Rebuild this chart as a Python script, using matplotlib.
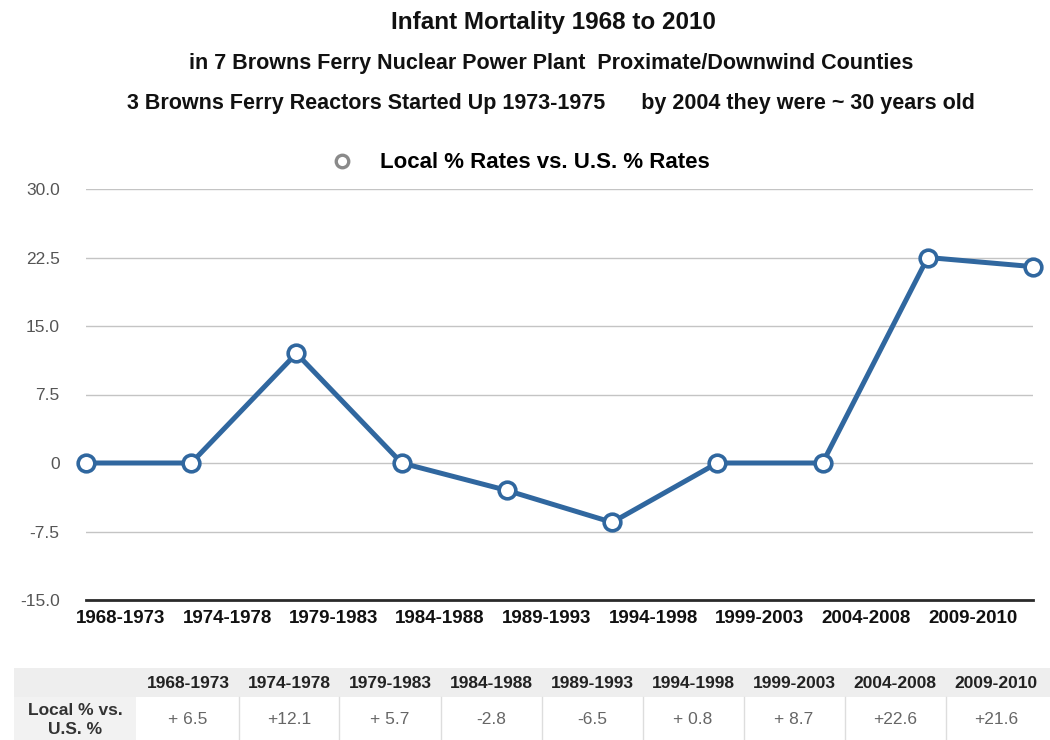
'''
Infant mortality chart for the counties around Browns Ferry,
    local rates compared with U.S. rates, 1968 to 2010.
'''
import numpy as np
import matplotlib
matplotlib.use('Agg')
import matplotlib.pyplot as plt
from matplotlib.lines import Line2D
from matplotlib.patches import Rectangle

plt.rcParams['font.family'] = ['Liberation Sans', 'DejaVu Sans']

# data
periods = ['1968-1973', '1974-1978', '1979-1983', '1984-1988', '1989-1993',
           '1994-1998', '1999-2003', '2004-2008', '2009-2010']
line_values = [0, 0, 12.0, 0, -3.0, -6.5, 0, 0, 22.5, 21.5]
table_values = ['+ 6.5', '+12.1', '+ 5.7', '-2.8', '-6.5', '+ 0.8', '+ 8.7',
                '+22.6', '+21.6']
y_ticks = [30.0, 22.5, 15.0, 7.5, 0, -7.5, -15.0]
y_tick_labels = ['30.0', '22.5', '15.0', '7.5', '0', '-7.5', '-15.0']

W, H = 1050, 740
LINE_BLUE = '#30679f'


def fy(px):
    # pixel row (from top) to figure fraction
    return 1 - px / H


fig = plt.figure(figsize=(W / 100, H / 100), dpi=100)
fig.patch.set_facecolor('white')

# titles
fig.text(0.527, fy(22), 'Infant Mortality 1968 to 2010', ha='center', va='center',
         fontsize=17.5, fontweight='bold', color='#111111')
fig.text(0.525, fy(64), 'in 7 Browns Ferry Nuclear Power Plant  Proximate/Downwind Counties',
         ha='center', va='center', fontsize=15.5, fontweight='bold', color='#111111')
fig.text(0.525, fy(104), '3 Browns Ferry Reactors Started Up 1973-1975      by 2004 they were ~ 30 years old',
         ha='center', va='center', fontsize=15.5, fontweight='bold', color='#111111')

# main plot
ax = fig.add_axes([86 / W, 1 - 600 / H, (1033 - 86) / W, 411 / H])
x = np.arange(len(line_values))
ax.plot(x, line_values, color=LINE_BLUE, lw=3.6, marker='o', markersize=12,
        markerfacecolor='white', markeredgecolor=LINE_BLUE, markeredgewidth=2.6,
        clip_on=False, zorder=3)
ax.set_xlim(0, len(line_values) - 1)
ax.set_ylim(-15, 30)
ax.set_yticks(y_ticks)
ax.set_yticklabels(y_tick_labels)
ax.set_xticks(np.arange(len(periods)) * 1.012 + 0.33)
ax.set_xticklabels(periods, fontweight='bold')
ax.tick_params(axis='y', length=0, pad=19, labelsize=12.5, labelcolor='#555555')
ax.tick_params(axis='x', length=0, pad=7, labelsize=13.5, labelcolor='#111111')
for side in ['top', 'right', 'left']:
    ax.spines[side].set_visible(False)
ax.spines['bottom'].set_color('#2a2a2a')
ax.spines['bottom'].set_linewidth(2)
ax.grid(axis='y', color='#c4c4c4', lw=1)
ax.set_axisbelow(True)

# legend
handle = Line2D([], [], color='#8a8a8a', marker='o', linestyle='none', markersize=9,
                markerfacecolor='white', markeredgewidth=2.4)
fig.legend([handle], ['Local % Rates vs. U.S. % Rates'], loc='center',
           bbox_to_anchor=(0.49, fy(163)), frameon=False, handletextpad=0.7,
           prop={'weight': 'bold', 'size': 16})

# table at the bottom
col_x = np.linspace(188, 996, len(periods))
fig.patches.append(Rectangle((14 / W, fy(697)), (W - 14) / W, 29 / H,
                             transform=fig.transFigure, facecolor='#eeeeee',
                             edgecolor='none', zorder=0))
fig.patches.append(Rectangle((14 / W, 0), 122 / W, fy(697),
                             transform=fig.transFigure, facecolor='#f2f2f2',
                             edgecolor='none', zorder=0))
for i, period in enumerate(periods):
    fig.text(col_x[i] / W, fy(684), period, ha='center', va='center',
             fontsize=12.5, fontweight='bold', color='#222222')
    fig.text(col_x[i] / W, fy(720), table_values[i], ha='center', va='center',
             fontsize=12.5, color='#666666')
for sep in (col_x[:-1] + col_x[1:]) / 2:
    fig.add_artist(Line2D([sep / W, sep / W], [0, fy(697)], transform=fig.transFigure,
                          color='#dddddd', lw=1))
fig.text(75 / W, fy(720), 'Local % vs.\nU.S. %', ha='center', va='center',
         fontsize=12.5, fontweight='bold', color='#333333', linespacing=1.3)

fig.savefig('out.png', dpi=100)
